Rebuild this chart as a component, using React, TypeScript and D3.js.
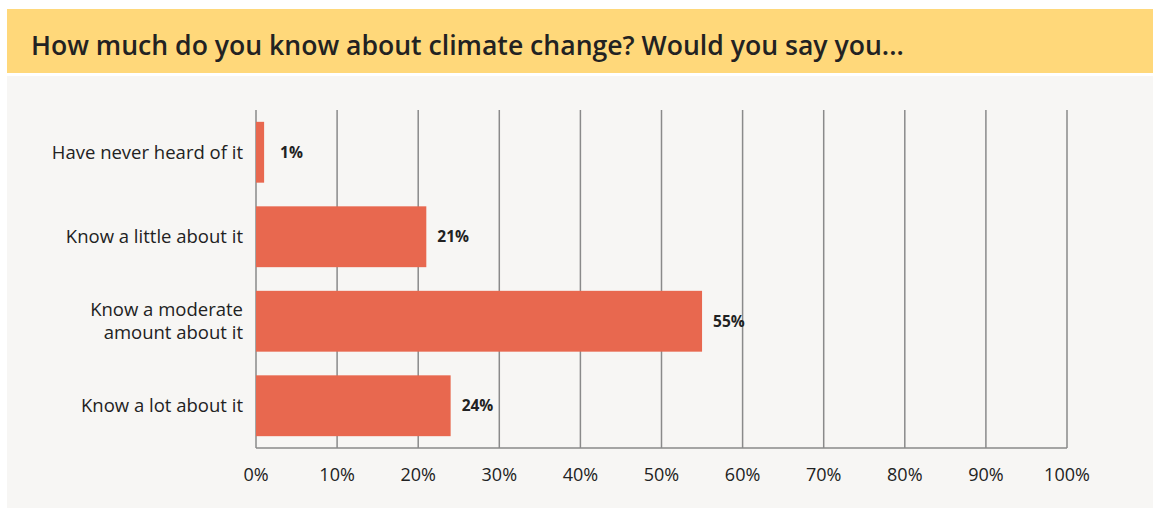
import React from "react";
import * as d3 from "d3";

const title = "How much do you know about climate change? Would you say you...";
const categories = ["Have never heard of it", "Know a little about it", "Know a moderate amount about it", "Know a lot about it"];
const categoryLines = [["Have never heard of it"], ["Know a little about it"], ["Know a moderate", "amount about it"], ["Know a lot about it"]];
const values = [1, 21, 55, 24];
const ticks = [0, 10, 20, 30, 40, 50, 60, 70, 80, 90, 100];

export default function App() {
  const W = 1153, H = 509;
  const x = d3.scaleLinear().domain([0, 100]).range([256, 1067]);
  const y = d3.scaleBand<string>().domain(categories).range([110, 448]).paddingInner(0.28).paddingOuter(0.14);
  const font = "'Open Sans', sans-serif";
  return (
    <svg width={W} height={H} style={{ position: "absolute", left: 0, top: 0 }}>
      <rect x={7} y={9} width={W - 7} height={64} fill="#FFD87A" />
      <rect x={7} y={76} width={W - 7} height={432} fill="#F7F6F4" />
      <text x={31} y={55} fontFamily={font} fontWeight={600} fontSize={26.6} fill="#222">{title}</text>
      {ticks.map((t) => (
        <line key={"g" + t} x1={x(t)} x2={x(t)} y1={110} y2={448} stroke="#8a8a8a" strokeWidth={1.5} />
      ))}
      <line x1={x(0)} x2={x(100)} y1={448} y2={448} stroke="#8a8a8a" strokeWidth={1.5} />
      {categories.map((c, i) => {
        const y0 = y(c)!;
        const bw = y.bandwidth();
        const cy = y0 + bw / 2;
        const lines = categoryLines[i];
        return (
          <g key={c}>
            <rect x={x(0)} y={y0} width={x(values[i]) - x(0)} height={bw} fill="#E8684F" />
            <text x={Math.max(x(values[i]) + 11, 280)} y={cy + 5.5} fontFamily={font} fontWeight={700} fontSize={15.5} fill="#222">{values[i]}%</text>
            {lines.map((l, j) => (
              <text key={j} x={243} y={cy + 6.5 + (j - (lines.length - 1) / 2) * 23} textAnchor="end" fontFamily={font} fontSize={18.5} fill="#222">{l}</text>
            ))}
          </g>
        );
      })}
      {ticks.map((t) => (
        <text key={"t" + t} x={x(t)} y={481} textAnchor="middle" fontFamily={font} fontSize={18} fill="#222">{t}%</text>
      ))}
    </svg>
  );
}
